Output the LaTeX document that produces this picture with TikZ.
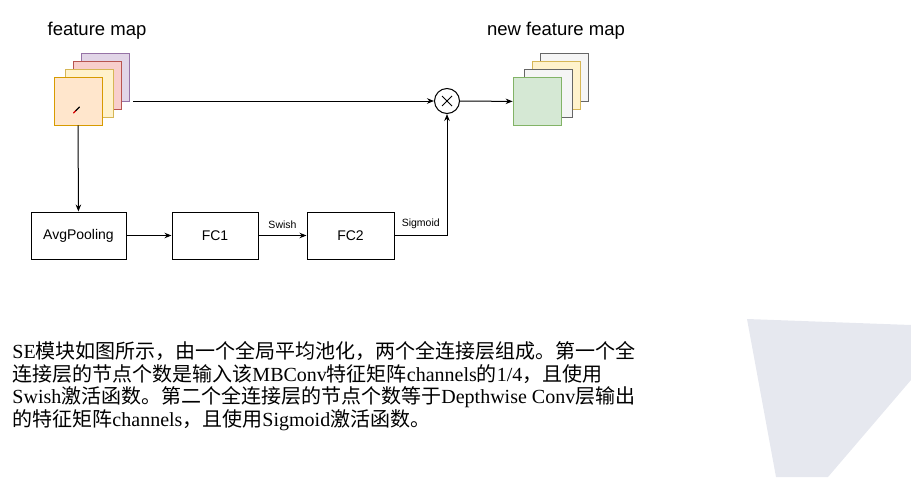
\documentclass[tikz,border=0pt]{standalone}
\usepackage{fontspec}
\setmainfont{Liberation Sans}
\newfontfamily\tnr{Liberation Serif}
\newfontfamily\cjk{Noto Sans CJK SC}
\usepackage{tikz}
\usetikzlibrary{arrows.meta,positioning,calc}
\definecolor{seOrange}{HTML}{FFE6CC}
\definecolor{seOrangeD}{HTML}{D79B00}
\definecolor{seYellow}{HTML}{FFF2CC}
\definecolor{seYellowD}{HTML}{D6B656}
\definecolor{sePink}{HTML}{F8CECC}
\definecolor{sePinkD}{HTML}{B85450}
\definecolor{sePurple}{HTML}{E1D5E7}
\definecolor{sePurpleD}{HTML}{9673A6}
\definecolor{seGreen}{HTML}{D5E8D4}
\definecolor{seGreenD}{HTML}{82B366}
\definecolor{seGrey}{HTML}{F5F5F5}
\definecolor{seGreyD}{HTML}{666666}
\definecolor{seShade}{HTML}{E6E8EF}
\newcommand{\lat}[1]{{\tnr #1}}

\begin{document}
\begin{tikzpicture}[
    x=1pt, y=-1pt,
    >={Stealth[length=7pt,width=5.5pt]},
    line width=1pt,
    fmap/.style 2 args={draw=#2, fill=#1, minimum size=48pt,
                        inner sep=0pt, line width=0.8pt},
    block/.style={draw, minimum width=#1, minimum height=47pt,
                  inner sep=0pt, font=\fontsize{14}{16}\selectfont},
    act/.style={font=\fontsize{10.5}{12}\selectfont, above=6pt, inner sep=0pt},
    title/.style={font=\fontsize{18.5}{22}\selectfont, inner sep=0pt},
  ]
  \useasboundingbox (0,0) rectangle (911,477);

  % --- background shade ---
  \fill[seShade] (747,319) -- (911,325) -- (911,380) -- (828,477)
    -- (776,477) -- cycle;

  % --- input feature map (back to front) ---
  \node[fmap={sePurple}{sePurpleD}] (fmD) at (105,77.5) {};
  \node[fmap={sePink}{sePinkD}]     (fmC) at (97,85.5)  {};
  \node[fmap={seYellow}{seYellowD}] (fmB) at (89,93)    {};
  \node[fmap={seOrange}{seOrangeD}] (fmA) at (78,101)   {};
  \node[title] (fmtitle) at (97,31) {feature map};

  % pen cursor
  \draw[line width=1.4pt, line cap=round] (79.5,107) -- (75.5,111);
  \draw[line width=1.4pt, line cap=round, red!85!black] (75.5,111) -- (73.5,113);

  % --- output feature map ---
  \node[fmap={seGrey}{seGreyD}]     (nfmD) at (564.5,77.5) {};
  \node[fmap={seYellow}{seYellowD}] (nfmC) at (556.5,85.5) {};
  \node[fmap={seGrey}{seGreyD}]     (nfmB) at (548.5,93)   {};
  \node[fmap={seGreen}{seGreenD}]   (nfmA) at (537,101.5)  {};
  \node[title] (nfmtitle) at (556,31) {new feature map};

  % --- scaling ---
  \node[draw, circle, minimum size=25pt, inner sep=0pt] (mult) at (447,101) {};
  \draw (mult.center) ++(-5,-5) -- ++(10,10);
  \draw (mult.center) ++(-5,5) -- ++(10,-10);

  % --- SE branch ---
  \node[block=95pt] (pool)  at (78.5,235.5) {AvgPooling};
  \node[block=86pt] (fcone) at (215,235.5)  {FC1};
  \node[block=87pt] (fctwo) at (350.5,235.5) {FC2};

  % --- arrows ---
  \coordinate (fmout) at (133,101);
  \draw[->] (fmout) -- (mult);
  \draw[->] (mult) -- (nfmA);
  \draw[->] (fmA) -- (pool);
  \draw[->] (pool) -- (fcone);
  \draw[->] (fcone) -- node[act]{Swish} (fctwo);
  \draw[->] (fctwo.east) -| node[act, pos=0.25]{Sigmoid} (mult.south);

  % --- description ---
  \node[anchor=north west, inner sep=0pt, align=left,
        font=\cjk\fontsize{20}{22.5}\selectfont] (desc) at (12,341)
    {\lat{SE}模块如图所示，由一个全局平均池化，两个全连接层组成。第一个全\\
     连接层的节点个数是输入该\lat{MBConv}特征矩阵\lat{channels}的\lat{1/4}，且使用\\
     \lat{Swish}激活函数。第二个全连接层的节点个数等于\lat{Depthwise Conv}层输出\\
     的特征矩阵\lat{channels}，且使用\lat{Sigmoid}激活函数。};

\end{tikzpicture}
\end{document}
